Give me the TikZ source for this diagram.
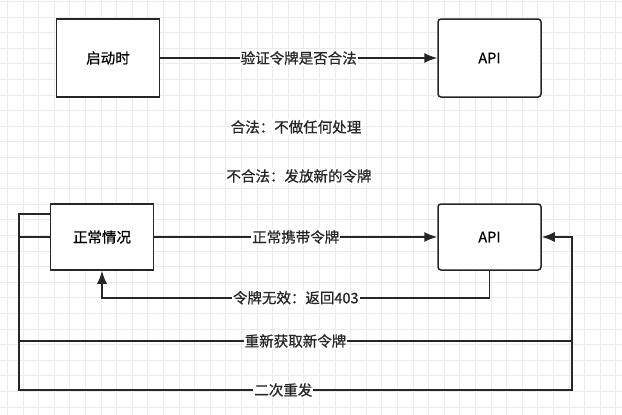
\documentclass[tikz,border=0pt]{standalone}
\usepackage{fontspec}
\setmainfont{Noto Sans CJK SC}[FakeBold=0.7]
\usetikzlibrary{calc,arrows.meta}

\begin{document}
\begin{tikzpicture}[x=1pt,y=-1pt,
                    box/.style={draw=black!85,line width=1.5pt,fill=white,minimum width=103pt,font=\fontsize{14.5}{16}\selectfont},
                    api/.style={box,rounded corners=3pt},
                    lbl/.style={fill=white,inner sep=1pt,text=black!85,font=\fontsize{14.5}{16}\selectfont},
                    line/.style={draw=black!85,line width=1.5pt},
                    link/.style={line,-{Latex[length=13pt,width=10pt]}}]
      \useasboundingbox (0,0) rectangle (622,415);
      \fill[white] (0,0) rectangle (622,415);
      \clip (0,0) rectangle (622,415);
      \draw[black!8,line width=0.8pt,shift={(7.4,1.4)},step=15.6pt] (-16,-16) grid (640,430);

      % startup check
      \node[box,minimum height=78pt] (start) at (108,58) {启动时};
      \node[api,minimum height=78pt] (api1) at (489.5,58) {API};
      \draw[link] (start) -- node[lbl] {验证令牌是否合法} (api1);

      \node[lbl] (ok) at (296,127) {合法：不做任何处理};
      \node[lbl] (notok) at (299,176) {不合法：发放新的令牌};

      % normal case
      \node[box,minimum height=66pt] (normal) at (102,237) {正常情况};
      \node[api,minimum height=66pt] (api2) at (489.5,237) {API};
      \draw[link] (normal) -- node[lbl] {正常携带令牌} (api2);
      \draw[link] (api2.south) -- ++(0,27) -| node[lbl,pos=0.25] {令牌无效：返回403} (normal.south);

      \coordinate (refetch) at (572,341);
      \draw[link] ([yshift=23pt]normal.west) -| (19,341) -- node[lbl] {重新获取新令牌} (refetch) |- (api2.east);
      \draw[line] (normal.west) -| (19,390) -- node[lbl,pos=0.478] {二次重发} (572,390) -- (refetch);
    \end{tikzpicture}
\end{document}
